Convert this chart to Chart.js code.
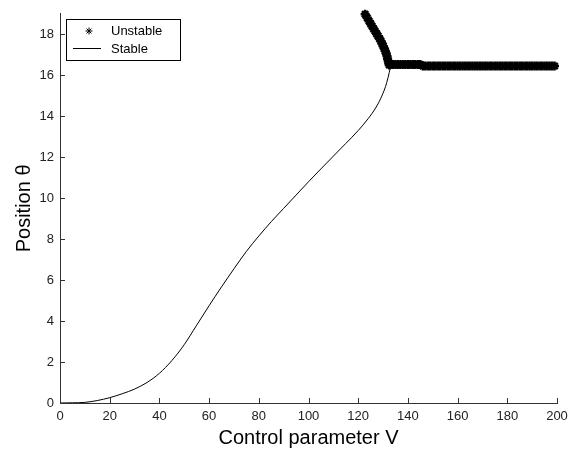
<!DOCTYPE html>
<html>
<head>
<meta charset="utf-8">
<script src="https://cdn.jsdelivr.net/npm/chart.js@4/dist/chart.umd.min.js"></script>
<style>
  html, body { margin: 0; padding: 0; background: #fff; }
  #wrap { width: 582px; height: 452px; }
</style>
</head>
<body>
<div id="wrap"><canvas id="grafico"></canvas></div>
<script>
// Ramo estável (linha fina)
var stableV = [0, 5, 10, 15, 20, 25, 30, 35, 40, 45, 50, 55, 60, 65, 70, 75, 80, 85, 90, 95, 100,
  105, 110, 115, 120, 124, 127, 129, 131, 132, 133];
var stableTheta = [0, 0.01, 0.03, 0.12, 0.26, 0.45, 0.68, 1.0, 1.45, 2.07, 2.85, 3.8, 4.75, 5.67, 6.55,
  7.4, 8.15, 8.85, 9.5, 10.15, 10.8, 11.43, 12.05, 12.67, 13.3, 13.88, 14.4, 14.85, 15.45, 15.88, 16.4];

// Ramo instável (marcadores *)
var unstableV = [122.8, 123.6, 124.4, 125.0, 125.6, 126.2, 126.8, 127.4, 128.0, 128.6, 129.2,
  129.6, 130.1, 130.5, 130.9, 131.3, 131.6, 131.8, 132.1, 132.3, 132.5,
  133, 134, 135, 136, 137, 138, 139, 140, 141, 142, 143, 144, 145,
  146, 147, 148, 149, 150, 151, 152, 153, 154, 155, 156, 157, 158, 159, 160,
  161, 162, 163, 164, 165, 166, 167, 168, 169, 170, 171, 172, 173, 174, 175,
  176, 177, 178, 179, 180, 181, 182, 183, 184, 185, 186, 187, 188, 189, 190,
  191, 192, 193, 194, 195, 196, 197, 198, 199];
var unstableTheta = [18.98, 18.81, 18.64, 18.52, 18.39, 18.27, 18.15, 18.03, 17.91, 17.79, 17.66,
  17.54, 17.42, 17.30, 17.18, 17.06, 16.93, 16.81, 16.69, 16.59, 16.5,
  16.52, 16.52, 16.52, 16.52, 16.52, 16.52, 16.52, 16.52, 16.52, 16.52, 16.52, 16.52, 16.52,
  16.45, 16.45, 16.45, 16.45, 16.45, 16.45, 16.45, 16.45, 16.45, 16.45, 16.45, 16.45, 16.45, 16.45, 16.45,
  16.45, 16.45, 16.45, 16.45, 16.45, 16.45, 16.45, 16.45, 16.45, 16.45, 16.45, 16.45, 16.45, 16.45, 16.45,
  16.45, 16.45, 16.45, 16.45, 16.45, 16.45, 16.45, 16.45, 16.45, 16.45, 16.45, 16.45, 16.45, 16.45, 16.45,
  16.45, 16.45, 16.45, 16.45, 16.45, 16.45, 16.45, 16.45, 16.45];

var xTicks = [0, 20, 40, 60, 80, 100, 120, 140, 160, 180, 200];
var yTicks = [0, 2, 4, 6, 8, 10, 12, 14, 16, 18];

var fonte = "'Liberation Sans', Arial, sans-serif";
var corEixo = '#333';

function pares(xs, ys) {
  var out = [];
  for (var i = 0; i < xs.length; i++) out.push({ x: xs[i], y: ys[i] });
  return out;
}

// Marcas dos eixos para dentro (estilo MATLAB) e legenda em caixa
var marcasInternas = {
  id: 'marcasInternas',
  afterDraw: function(chart) {
    var ctx = chart.ctx;
    var area = chart.chartArea;
    var sx = chart.scales.x, sy = chart.scales.y;
    ctx.save();
    ctx.strokeStyle = corEixo;
    ctx.lineWidth = 1;
    ctx.beginPath();
    sx.ticks.forEach(function(t) {
      var px = Math.round(sx.getPixelForValue(t.value)) + 0.5;
      ctx.moveTo(px, area.bottom);
      ctx.lineTo(px, area.bottom - 5);
    });
    sy.ticks.forEach(function(t) {
      var py = Math.round(sy.getPixelForValue(t.value)) + 0.5;
      ctx.moveTo(area.left, py);
      ctx.lineTo(area.left + 5, py);
    });
    ctx.stroke();

    // legenda
    var ds = chart.data.datasets;
    ctx.fillStyle = '#fff';
    ctx.fillRect(66.5, 19.5, 114, 41);
    ctx.strokeStyle = '#000';
    ctx.strokeRect(66.5, 19.5, 114, 41);

    // asterisco
    var cx = 89, cy = 31, r = 3.5;
    ctx.beginPath();
    ctx.moveTo(cx - r, cy); ctx.lineTo(cx + r, cy);
    ctx.moveTo(cx, cy - r); ctx.lineTo(cx, cy + r);
    ctx.moveTo(cx - r * 0.7, cy - r * 0.7); ctx.lineTo(cx + r * 0.7, cy + r * 0.7);
    ctx.moveTo(cx - r * 0.7, cy + r * 0.7); ctx.lineTo(cx + r * 0.7, cy - r * 0.7);
    ctx.stroke();

    // linha
    ctx.beginPath();
    ctx.moveTo(73, 48.5); ctx.lineTo(101, 48.5);
    ctx.stroke();

    ctx.fillStyle = '#000';
    ctx.font = '13px ' + fonte;
    ctx.textBaseline = 'middle';
    ctx.textAlign = 'left';
    ctx.fillText(ds[0].label, 111, 31);
    ctx.fillText(ds[1].label, 111, 49);
    ctx.restore();
  }
};

var ctx = document.getElementById('grafico').getContext('2d');

var myChart = new Chart(ctx, {
  type: 'line',
  data: {
    datasets: [{
      label: 'Unstable',
      data: pares(unstableV, unstableTheta),
      showLine: false,
      pointStyle: 'star',
      pointRadius: 4.5,
      pointBorderWidth: 2.5,
      pointBorderColor: '#000',
      pointBackgroundColor: '#000',
      clip: false
    }, {
      label: 'Stable',
      data: pares(stableV, stableTheta),
      borderColor: '#000',
      borderWidth: 1,
      pointRadius: 0,
      cubicInterpolationMode: 'monotone',
      fill: false
    }]
  },
  options: {
    responsive: true,
    maintainAspectRatio: false,
    animation: false,
    layout: { padding: { top: 12, right: 25, left: 0, bottom: 0 } },
    plugins: {
      legend: { display: false },
      tooltip: { enabled: false }
    },
    scales: {
      x: {
        type: 'linear',
        position: 'bottom',
        min: 0,
        max: 200,
        afterBuildTicks: function(scale) {
          scale.ticks = xTicks.map(function(v) { return { value: v }; });
        },
        afterFit: function(scale) { scale.height = 49; },
        grid: { display: true, drawOnChartArea: false, drawTicks: false },
        border: { display: true, color: corEixo, width: 1 },
        ticks: { padding: 6, color: '#222', font: { family: fonte, size: 13 }, maxRotation: 0 },
        title: {
          display: true,
          text: 'Control parameter V',
          color: '#000',
          font: { family: fonte, size: 20 },
          padding: { top: 0, bottom: 2 }
        }
      },
      y: {
        type: 'linear',
        position: 'left',
        min: 0,
        max: 19,
        afterBuildTicks: function(scale) {
          scale.ticks = yTicks.map(function(v) { return { value: v }; });
        },
        afterFit: function(scale) { scale.width = 60; },
        grid: { display: true, drawOnChartArea: false, drawTicks: false },
        border: { display: true, color: corEixo, width: 1 },
        ticks: { padding: 6, color: '#222', font: { family: fonte, size: 13 } },
        title: {
          display: true,
          text: 'Position θ',
          color: '#000',
          font: { family: fonte, size: 20 },
          padding: { top: 12, bottom: 0 }
        }
      }
    }
  },
  plugins: [marcasInternas]
});
</script>
</body>
</html>
